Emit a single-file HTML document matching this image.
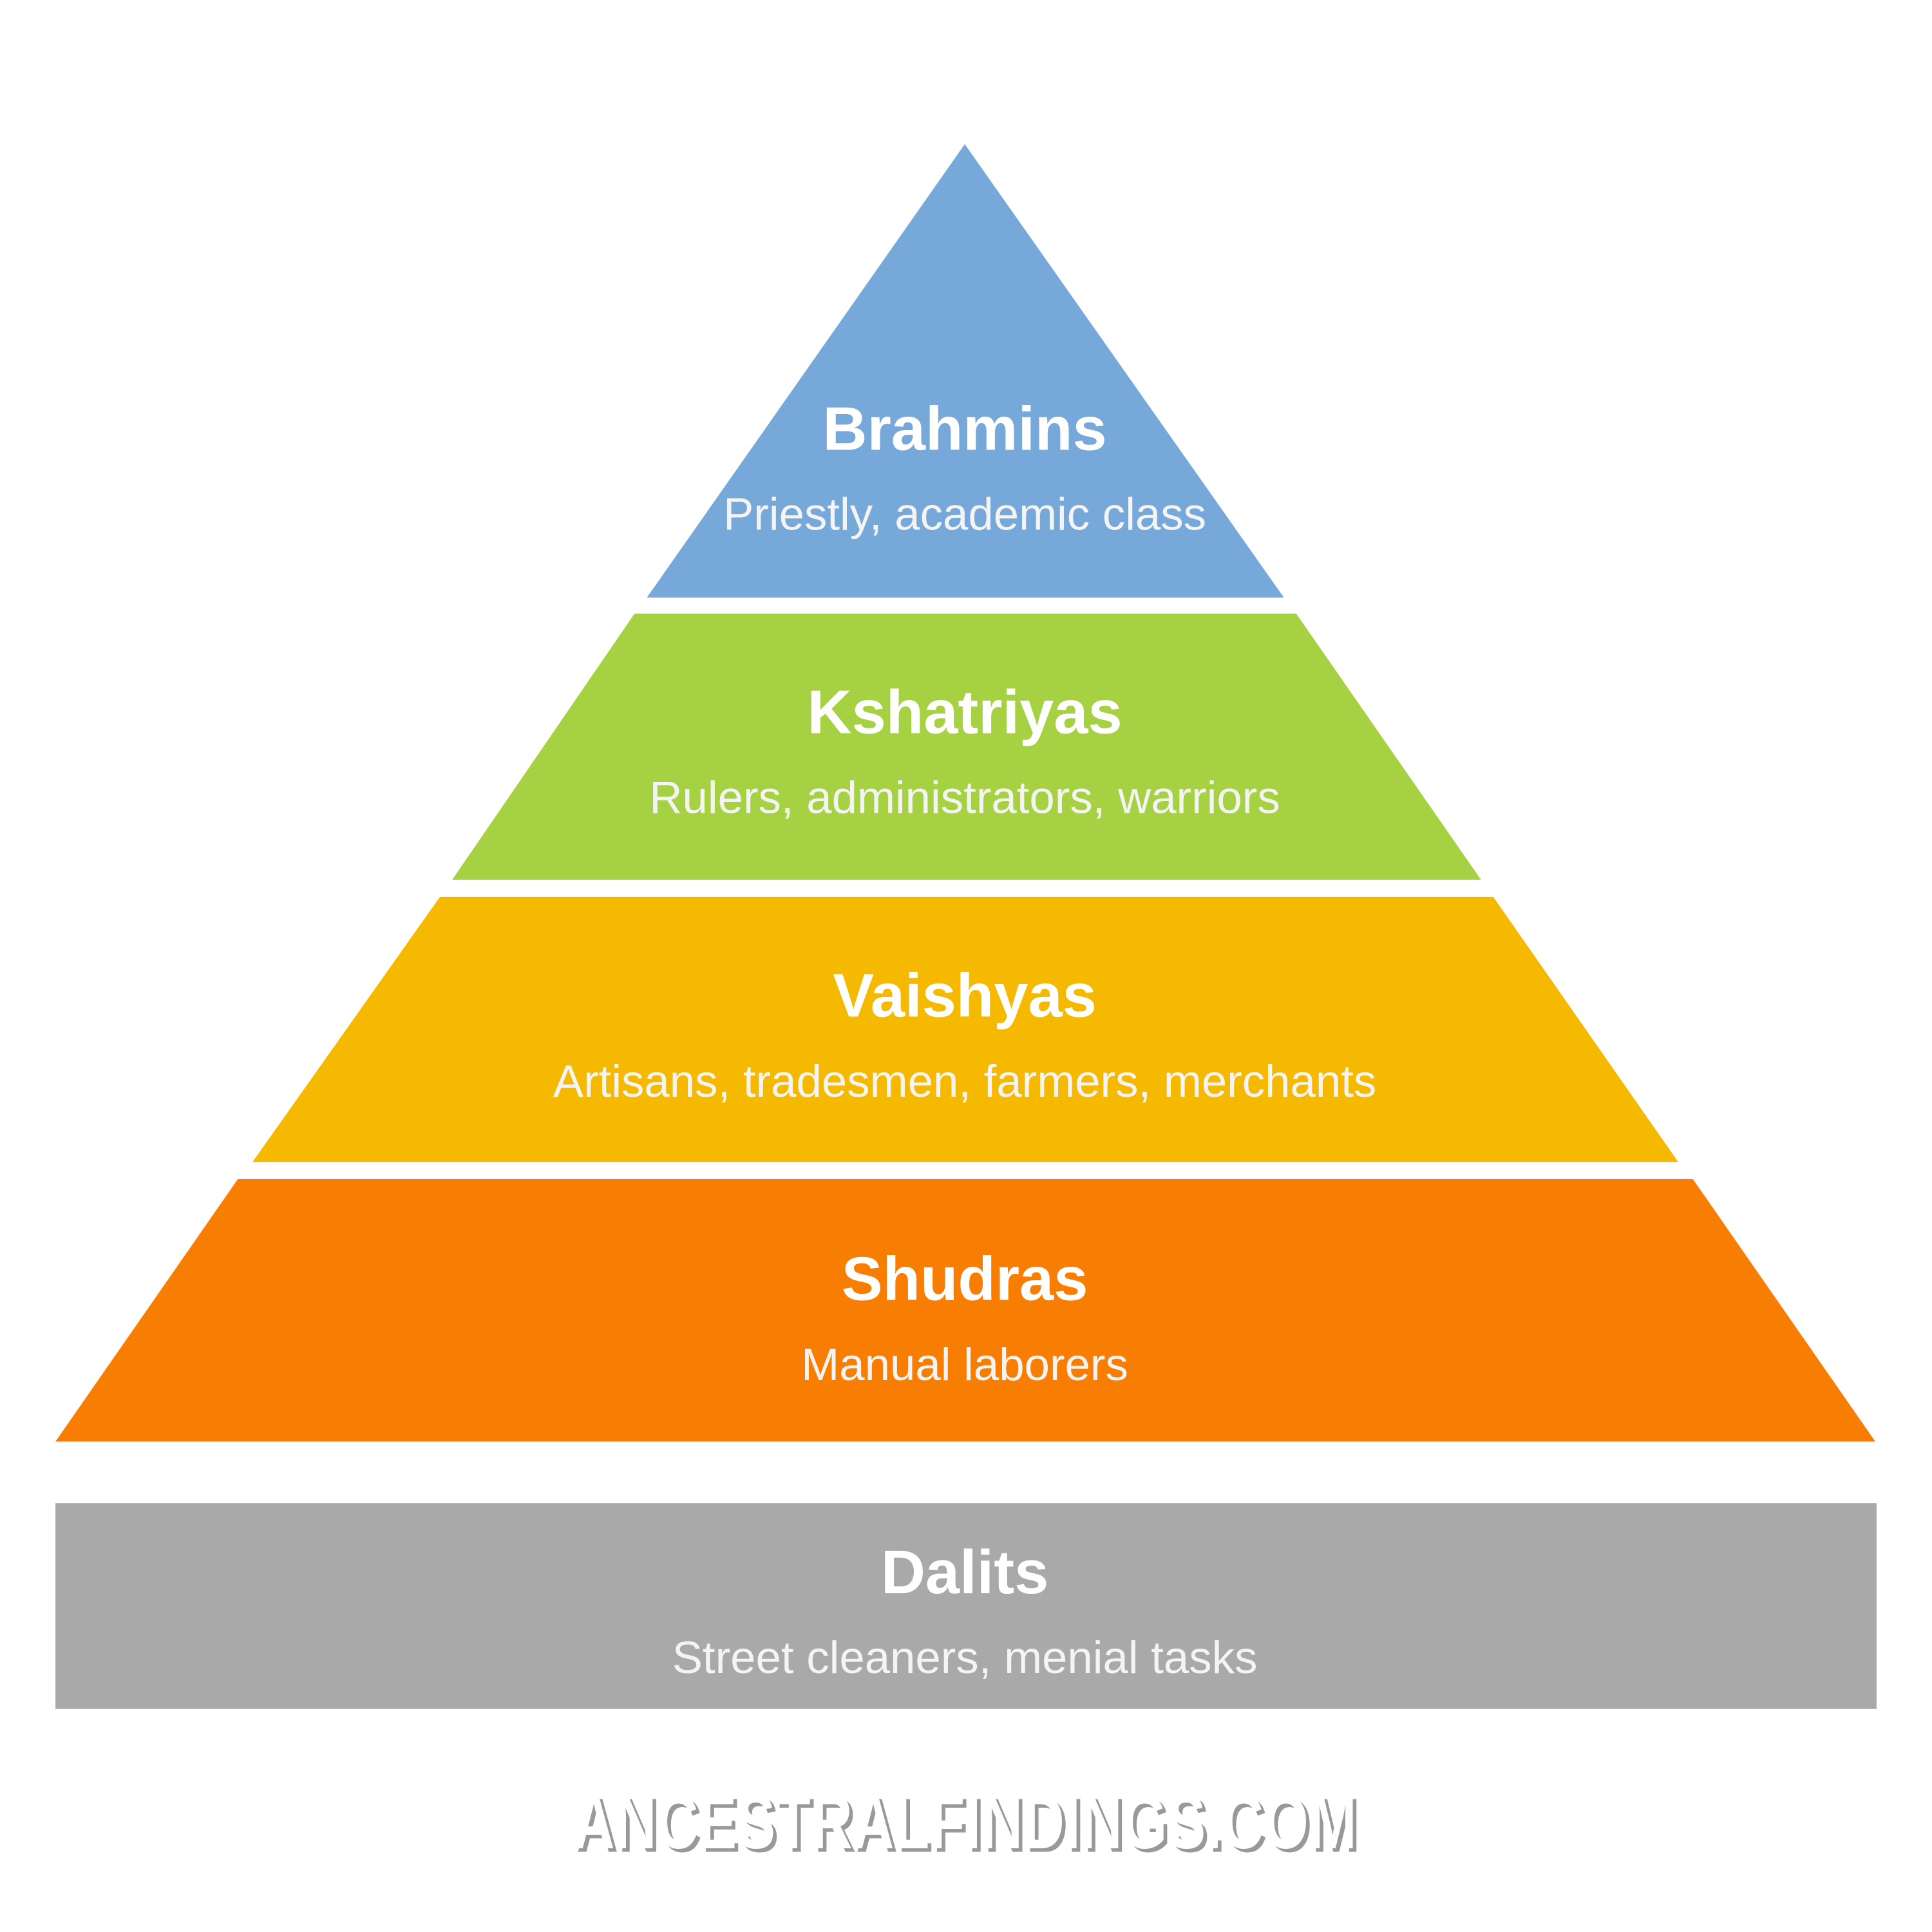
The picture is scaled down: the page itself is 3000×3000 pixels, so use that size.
<!DOCTYPE html>
<html><head><meta charset="utf-8"><style>
html,body{margin:0;padding:0;background:#fff;}
svg{display:block;}
text{font-family:"Liberation Sans",sans-serif;fill:#fff;text-anchor:middle;}
.t{font-weight:bold;font-size:50px;}
.s{font-size:37px;fill:#f4f4f4;}
</style></head><body>
<svg width="3000" height="3000" viewBox="0 0 1568 1568" xmlns="http://www.w3.org/2000/svg">
<rect width="1568" height="1568" fill="#fff"/>
<polygon points="783,117 1042,485 525,485" fill="#76a8d9"/>
<polygon points="515,498 1052,498 1202,714 367,714" fill="#a6d143"/>
<polygon points="357,728 1212,728 1362,943 205,943" fill="#f6b902"/>
<polygon points="193,957 1374,957 1522,1170 45,1170" fill="#f77d03"/>
<rect x="45" y="1220" width="1478" height="167" fill="#a9a9a9"/>
<text class="t" x="783" y="365">Brahmins</text>
<text class="s" x="783" y="430">Priestly, academic class</text>
<text class="t" x="783" y="595">Kshatriyas</text>
<text class="s" x="783" y="660">Rulers, administrators, warriors</text>
<text class="t" x="783" y="825">Vaishyas</text>
<text class="s" x="783" y="890">Artisans, tradesmen, farmers, merchants</text>
<text class="t" x="783" y="1055">Shudras</text>
<text class="s" x="783" y="1120">Manual laborers</text>
<text class="t" x="783" y="1293">Dalits</text>
<text class="s" x="783" y="1358">Street cleaners, menial tasks</text>
<text x="786" y="1503" style="font-weight:bold;font-size:62px;fill:#999;font-family:'Liberation Sans Narrow','Liberation Sans',sans-serif;" textLength="636" lengthAdjust="spacingAndGlyphs">ANCESTRALFINDINGS.COM</text>
<text x="783" y="1500" style="font-weight:bold;font-size:62px;fill:#fff;font-family:'Liberation Sans Narrow','Liberation Sans',sans-serif;" textLength="636" lengthAdjust="spacingAndGlyphs">ANCESTRALFINDINGS.COM</text>
</svg>
</body></html>
